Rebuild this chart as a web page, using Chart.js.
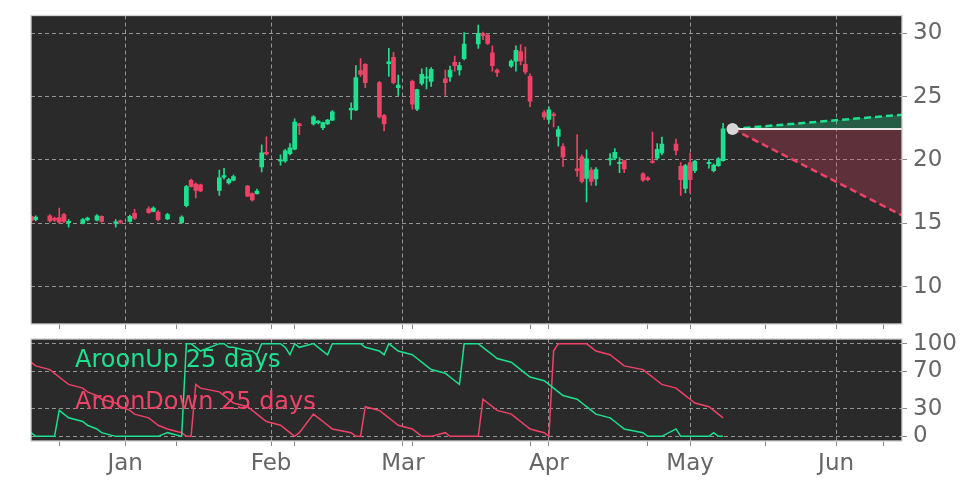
<!DOCTYPE html>
<html>
<head>
<meta charset="utf-8">
<script src="https://cdn.jsdelivr.net/npm/chart.js@4.4.1/dist/chart.umd.min.js"></script>
<style>
  body { margin: 0; background: #fff; }
  #wrap { position: relative; width: 972px; height: 486px; }
  canvas { position: absolute; left: 0; }
  #priceChart { top: 0; }
  #aroonChart { top: 330px; }
  .lbl { position: absolute; font-family: "DejaVu Sans"; font-size: 24px; white-space: nowrap; }
</style>
</head>
<body>
<div id="wrap">
  <canvas id="priceChart" width="972" height="330"></canvas>
  <canvas id="aroonChart" width="972" height="156"></canvas>
  <div class="lbl" style="left:75px; top:345px; color:#1ee08e;">AroonUp 25 days</div>
  <div class="lbl" style="left:75px; top:387px; color:#ee4267;">AroonDown 25 days</div>
</div>
<script>
// trading days
const dates = [
  '2024-12-12','2024-12-13','2024-12-16','2024-12-17','2024-12-18','2024-12-19','2024-12-20','2024-12-23','2024-12-24','2024-12-26','2024-12-27','2024-12-30','2024-12-31','2025-01-02','2025-01-03','2025-01-06','2025-01-07','2025-01-08','2025-01-10','2025-01-13',
  '2025-01-14','2025-01-15','2025-01-16','2025-01-17','2025-01-21','2025-01-22','2025-01-23','2025-01-24','2025-01-27','2025-01-28','2025-01-29','2025-01-30','2025-01-31','2025-02-03','2025-02-04','2025-02-05','2025-02-06','2025-02-07','2025-02-10','2025-02-11',
  '2025-02-12','2025-02-13','2025-02-14','2025-02-18','2025-02-19','2025-02-20','2025-02-21','2025-02-24','2025-02-25','2025-02-26','2025-02-27','2025-02-28','2025-03-03','2025-03-04','2025-03-05','2025-03-06','2025-03-07','2025-03-10','2025-03-11','2025-03-12',
  '2025-03-13','2025-03-14','2025-03-17','2025-03-18','2025-03-19','2025-03-20','2025-03-21','2025-03-24','2025-03-25','2025-03-26','2025-03-27','2025-03-28','2025-03-31','2025-04-01','2025-04-02','2025-04-03','2025-04-04','2025-04-07','2025-04-08','2025-04-09',
  '2025-04-10','2025-04-11','2025-04-14','2025-04-15','2025-04-16','2025-04-17','2025-04-21','2025-04-22','2025-04-23','2025-04-24','2025-04-25','2025-04-28','2025-04-29','2025-04-30','2025-05-01','2025-05-02','2025-05-05','2025-05-06','2025-05-07','2025-05-08'
];
const opens = [
  15.55,15.3,15.6,15.4,15.45,15.7,15.05,15.0,15.28,15.25,15.55,15.0,15.18,15.15,15.8,16.15,15.95,15.9,15.35,15.05,
  16.4,18.4,18.1,18.05,17.6,18.65,18.2,18.4,17.95,17.35,17.35,19.46,20.56,19.9,19.93,20.5,20.85,22.85,22.85,22.95,
  22.55,22.85,23.15,23.95,23.95,27.05,27.55,26.1,23.5,27.6,28.1,25.7,26.2,24.0,26.05,26.45,26.2,26.4,26.55,27.7,
  27.1,28.0,29.15,30.0,29.85,28.45,27.1,27.4,27.8,28.55,27.55,26.6,23.75,23.2,23.6,21.85,21.05,19.3,20.25,18.55,
  19.2,18.5,20.0,20.15,19.7,19.95,18.9,18.6,19.9,20.15,20.55,21.25,19.5,17.75,19.8,19.15,19.7,19.15,19.55,19.95
];
const highs = [
  15.65,15.6,15.7,15.5,16.2,15.8,15.3,15.4,15.5,15.7,15.6,15.3,15.25,15.65,16.1,16.3,16.3,16.0,15.8,15.6,
  18.0,18.5,18.2,18.1,19.2,19.35,18.55,18.8,18.0,17.4,17.7,21.2,21.82,20.4,20.85,21.3,23.25,22.9,23.5,23.1,
  23.0,23.2,23.9,24.5,27.45,28.0,27.6,26.2,23.6,28.8,28.5,26.7,26.3,25.6,27.2,27.3,27.3,27.1,27.4,28.2,
  27.7,30.05,30.65,30.1,30.0,29.0,27.2,27.9,29.0,29.1,28.9,26.8,23.9,24.2,23.75,22.65,21.3,22.0,20.4,20.8,
  19.4,19.4,20.5,20.9,20.2,20.0,19.0,18.7,22.2,21.3,21.8,21.65,19.8,19.65,20.55,20.0,20.05,19.7,20.2,22.9
];
const lows = [
  15.1,15.2,15.1,15.15,15.0,15.05,14.7,14.95,15.2,15.2,15.1,14.7,15.0,15.1,15.3,15.8,15.9,15.2,15.3,15.0,
  16.3,17.85,17.0,17.5,17.2,18.5,18.1,18.35,17.1,16.75,17.3,19.06,20.4,19.6,19.8,20.4,20.8,22.0,22.75,22.85,
  22.4,22.8,23.1,23.2,23.9,26.6,25.7,23.3,22.3,26.6,26.0,25.1,24.0,23.9,25.9,25.6,25.8,25.1,26.2,27.0,
  26.7,27.9,28.8,29.5,29.1,27.0,26.6,27.3,27.0,27.5,26.8,24.2,23.2,22.9,22.6,21.1,19.5,18.7,18.2,16.7,
  18.0,18.0,19.6,20.05,19.0,19.0,18.3,18.35,19.75,20.0,20.4,20.4,17.2,17.4,17.4,19.0,19.35,19.05,19.5,19.9
];
const closes = [
  15.2,15.5,15.2,15.25,15.1,15.15,15.15,15.3,15.42,15.6,15.15,15.1,15.08,15.55,15.4,15.85,16.2,15.3,15.7,15.5,
  17.9,17.9,17.6,17.55,18.6,18.75,18.45,18.7,17.15,16.85,17.55,20.56,20.48,19.95,20.72,20.95,23.0,22.7,23.4,23.0,
  22.95,23.15,23.8,24.05,26.5,26.75,26.1,23.4,22.85,27.75,26.1,25.92,24.4,25.55,26.75,26.5,27.15,26.1,27.1,27.45,
  27.45,29.15,30.0,29.8,29.2,27.45,26.9,27.8,28.65,27.8,26.95,24.65,23.4,23.95,23.5,22.4,20.25,19.15,18.3,20.1,
  18.3,19.25,20.1,20.6,19.8,19.3,18.4,18.45,19.8,20.85,21.25,20.75,18.45,19.55,18.45,19.9,19.75,19.6,20.1,22.45
];
const aroonUp = [
  4,0,0,0,28,24,20,16,12,8,4,0,0,0,0,0,0,0,4,0,
  100,100,96,92,100,100,96,96,92,92,88,100,100,100,96,88,100,96,100,96,
  92,88,100,100,100,100,96,92,88,100,96,92,88,84,80,76,72,68,64,60,
  56,100,100,96,92,88,84,80,76,72,68,64,60,56,52,48,44,40,36,32,
  28,24,20,16,12,8,4,0,0,0,0,8,0,0,0,0,0,4,0,0
];
const aroonDown = [
  80,76,72,68,64,60,56,52,48,44,40,36,32,28,24,20,16,12,8,4,
  0,0,56,52,48,44,40,36,32,28,24,20,16,12,8,4,0,4,24,20,
  16,12,8,4,0,0,32,28,24,20,16,12,8,4,0,0,0,4,0,0,
  0,0,0,40,36,32,28,24,20,16,12,8,4,0,92,100,100,100,100,100,
  96,92,88,84,80,76,72,68,64,60,56,52,48,44,40,36,32,28,24,20
];
// forecast cone
const forecastDates = ['2025-05-10', '2025-06-15'];
const forecastMid = [22.45, 22.45];
const forecastHigh = [22.45, 23.57];
const forecastLow = [22.45, 15.63];

// axes
const viewStart = '2024-12-12';
const viewEnd = '2025-06-15';
const monthTicks = ['2025-01-01','2025-02-01','2025-03-01','2025-04-01','2025-05-01','2025-06-01'];
const monthLabels = ['Jan','Feb','Mar','Apr','May','Jun'];
const minorTicks = ['2024-12-18','2025-01-12','2025-02-06','2025-03-03','2025-03-28','2025-04-22','2025-05-17','2025-06-11'];
const priceTicks = [10, 15, 20, 25, 30];
const aroonTicks = [0, 30, 70, 100];

const GREEN = '#1ee08e';
const RED = '#ee4267';
const GRID = 'rgba(185,185,185,0.75)';
const FONT = { family: 'DejaVu Sans', size: 23 };

const dayOf = s => (Date.UTC(+s.slice(0, 4), +s.slice(5, 7) - 1, +s.slice(8, 10)) - Date.UTC(2025, 0, 1)) / 86400000;
const xs = dates.map(dayOf);
const isUp = i => closes[i] >= opens[i];

const labelByDay = {};
monthTicks.forEach((d, i) => { labelByDay[dayOf(d)] = monthLabels[i]; });
const xTickList = monthTicks.map(d => ({ value: dayOf(d), mj: true }))
  .concat(minorTicks.map(d => ({ value: dayOf(d), mj: false })));

const panel = {
  id: 'panel',
  beforeDraw(c) {
    const a = c.chartArea, ctx = c.ctx;
    ctx.save();
    ctx.fillStyle = '#2a2a2a';
    ctx.fillRect(a.left, a.top, a.right - a.left, a.bottom - a.top);
    ctx.restore();
  },
  afterDraw(c) {
    const a = c.chartArea, ctx = c.ctx;
    ctx.save();
    ctx.strokeStyle = '#d2d2d2';
    ctx.lineWidth = 1.3;
    ctx.strokeRect(a.left, a.top, a.right - a.left, a.bottom - a.top);
    ctx.restore();
  }
};

// no label overhang padding, fixed axis size
const noPad = s => { s.paddingTop = 0; s.paddingBottom = 0; s.paddingLeft = 0; s.paddingRight = 0; };

function xAxis(showLabels, height) {
  return {
    type: 'linear',
    min: dayOf(viewStart),
    max: dayOf(viewEnd),
    offset: false,
    bounds: 'data',
    afterBuildTicks: s => { s.ticks = xTickList.map(t => ({ value: t.value, mj: t.mj })); },
    afterFit: s => { s.height = height; noPad(s); },
    ticks: {
      display: showLabels,
      autoSkip: false,
      maxRotation: 0,
      padding: 4,
      color: '#666',
      font: FONT,
      callback: v => labelByDay[v] || ''
    },
    grid: {
      offset: false,
      color: ctx => (ctx.tick && ctx.tick.mj ? GRID : 'rgba(0,0,0,0)'),
      tickColor: '#8a8a8a',
      tickLength: 5,
      lineWidth: 1
    },
    border: { display: false, dash: [4, 3] }
  };
}

function yAxis(min, max, tickVals) {
  return {
    position: 'right',
    min: min,
    max: max,
    bounds: 'data',
    beginAtZero: false,
    afterBuildTicks: s => { s.ticks = tickVals.map(v => ({ value: v })); },
    afterFit: s => { s.width = 70; noPad(s); },
    ticks: { color: '#666', font: FONT, padding: 6, autoSkip: false },
    grid: { color: GRID, tickColor: '#8a8a8a', tickLength: 5, lineWidth: 1 },
    border: { display: false, dash: [4, 3] }
  };
}

const pt = (arr) => forecastDates.map((d, i) => ({ x: dayOf(d), y: arr[i] }));

new Chart(document.getElementById('priceChart'), {
  type: 'bar',
  data: {
    datasets: [
      {
        type: 'scatter',
        data: [{ x: dayOf(forecastDates[0]), y: forecastMid[0] }],
        pointRadius: 6,
        pointBackgroundColor: '#d6d6d6',
        pointBorderWidth: 0,
        order: 0
      },
      {
        type: 'line',
        data: pt(forecastMid),
        borderColor: '#e8e8e8',
        borderWidth: 2,
        pointRadius: 0,
        fill: false,
        order: 1
      },
      {
        type: 'line',
        data: pt(forecastHigh),
        borderColor: GREEN,
        borderWidth: 2.5,
        borderDash: [7, 4],
        pointRadius: 0,
        fill: { target: 1 },
        backgroundColor: 'rgba(30,224,142,0.28)',
        order: 2
      },
      {
        type: 'line',
        data: pt(forecastLow),
        borderColor: RED,
        borderWidth: 2.5,
        borderDash: [7, 4],
        pointRadius: 0,
        fill: { target: 1 },
        backgroundColor: 'rgba(238,66,103,0.26)',
        order: 3
      },
      {
        data: xs.map((x, i) => ({ x: x, y: [opens[i], closes[i]] })),
        backgroundColor: c => (isUp(c.dataIndex) ? GREEN : RED),
        barThickness: 4,
        minBarLength: 1.5,
        grouped: false,
        order: 4
      },
      {
        data: xs.map((x, i) => ({ x: x, y: [lows[i], highs[i]] })),
        backgroundColor: c => (isUp(c.dataIndex) ? GREEN : RED),
        barThickness: 1,
        grouped: false,
        order: 5
      }
    ]
  },
  options: {
    responsive: false,
    animation: false,
    layout: { padding: { left: 31, top: 15.5, right: 0, bottom: 0 } },
    scales: {
      x: xAxis(false, 6),
      y: yAxis(7.06, 31.4, priceTicks)
    },
    plugins: { legend: { display: false }, tooltip: { enabled: false } }
  },
  plugins: [panel]
});

new Chart(document.getElementById('aroonChart'), {
  type: 'line',
  data: {
    datasets: [
      {
        data: xs.map((x, i) => ({ x: x, y: aroonUp[i] })),
        borderColor: GREEN,
        borderWidth: 1.5,
        pointRadius: 0,
        tension: 0
      },
      {
        data: xs.map((x, i) => ({ x: x, y: aroonDown[i] })),
        borderColor: RED,
        borderWidth: 1.5,
        pointRadius: 0,
        tension: 0
      }
    ]
  },
  options: {
    responsive: false,
    animation: false,
    layout: { padding: { left: 31, top: 9, right: 0, bottom: 0 } },
    scales: {
      x: xAxis(true, 45),
      y: yAxis(-5, 105, aroonTicks)
    },
    plugins: { legend: { display: false }, tooltip: { enabled: false } }
  },
  plugins: [panel]
});
</script>
</body>
</html>
